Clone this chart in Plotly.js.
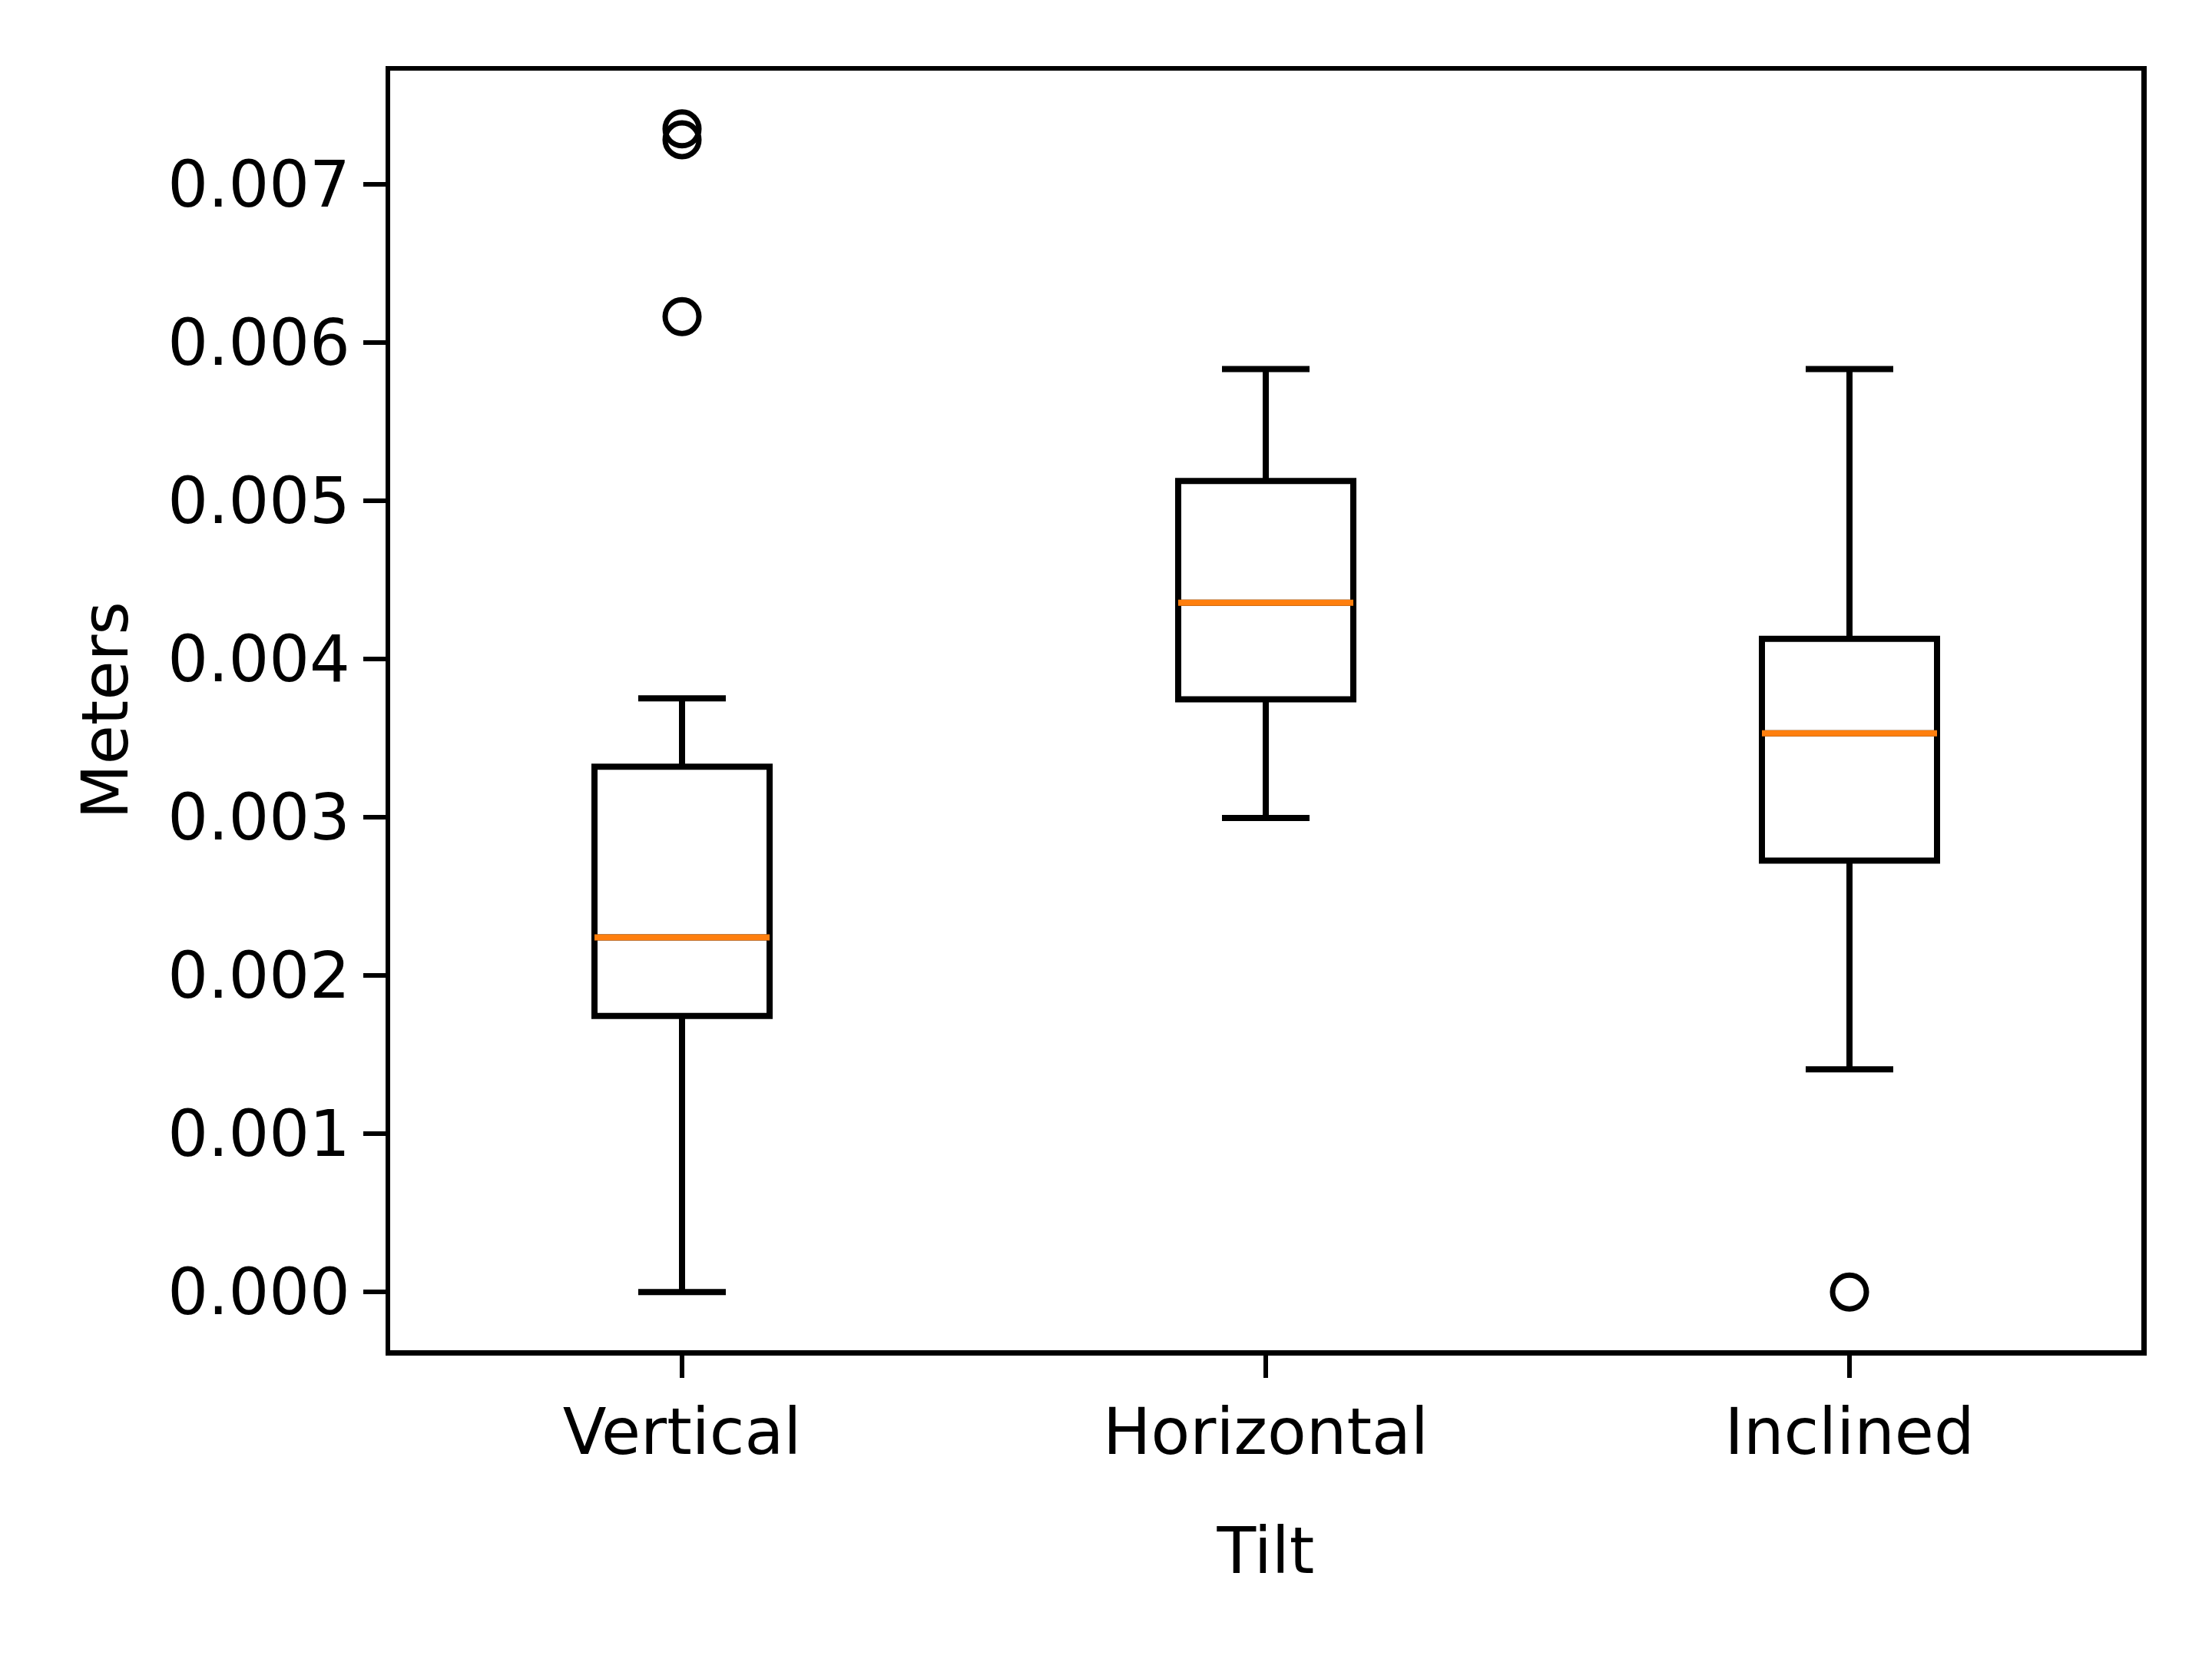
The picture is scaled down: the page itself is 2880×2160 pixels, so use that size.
<!DOCTYPE html>
<html>
<head>
<meta charset="utf-8">
<script src="https://cdn.plot.ly/plotly-3.0.1.min.js"></script>
<style>
  html, body { margin: 0; padding: 0; background: #fff; }
  #chart { width: 2880px; height: 2160px; }
</style>
</head>
<body>
<div id="chart"></div>
<script>
// box statistics (meters)
var categories = ['Vertical', 'Horizontal', 'Inclined'];
var lowerWhisker = [0.0, 0.002996, 0.001407];
var q1 = [0.001745, 0.003745, 0.002726];
var median = [0.002241, 0.004356, 0.003531];
var q3 = [0.003320, 0.005125, 0.004127];
var upperWhisker = [0.003752, 0.005833, 0.005833];

// fliers
var verticalOutliers = [0.006164, 0.007281, 0.007350];
var inclinedOutliers = [0.0];

var yTicks = [0, 0.001, 0.002, 0.003, 0.004, 0.005, 0.006, 0.007];

var boxes = {
  type: 'box',
  x: categories,
  q1: q1,
  median: median,
  q3: q3,
  lowerfence: lowerWhisker,
  upperfence: upperWhisker,
  width: 0.3,
  whiskerwidth: 0.5,
  boxpoints: false,
  fillcolor: 'rgba(255,255,255,0)',
  line: {color: 'black', width: 8},
  showlegend: false,
  hoverinfo: 'skip'
};

// orange median line drawn as a flat box on top
var medians = {
  type: 'box',
  x: categories,
  q1: median,
  median: median,
  q3: median,
  lowerfence: median,
  upperfence: median,
  width: 0.3,
  whiskerwidth: 0,
  boxpoints: false,
  fillcolor: 'rgba(0,0,0,0)',
  line: {color: '#ff7f0e', width: 8},
  showlegend: false,
  hoverinfo: 'skip'
};

var fliers = {
  type: 'scatter',
  mode: 'markers',
  x: verticalOutliers.map(function () { return categories[0]; })
      .concat(inclinedOutliers.map(function () { return categories[2]; })),
  y: verticalOutliers.concat(inclinedOutliers),
  marker: {symbol: 'circle-open', size: 44, color: 'black', line: {width: 7, color: 'black'}},
  showlegend: false,
  hoverinfo: 'skip'
};

var axisFont = {family: 'DejaVu Sans', size: 83, color: 'black'};

var layout = {
  width: 2880,
  height: 2160,
  margin: {l: 508, r: 92, t: 92, b: 402},
  paper_bgcolor: 'white',
  plot_bgcolor: 'white',
  boxmode: 'overlay',
  font: axisFont,
  xaxis: {
    type: 'category',
    range: [-0.5, 2.5],
    showgrid: false,
    zeroline: false,
    showline: true,
    mirror: true,
    linecolor: 'black',
    linewidth: 6.5,
    ticks: 'outside',
    ticklen: 29,
    tickwidth: 6.5,
    tickcolor: 'black',
    tickfont: axisFont,
    title: {text: 'Tilt', font: axisFont, standoff: 80}
  },
  yaxis: {
    range: [-0.000368, 0.007718],
    tickvals: yTicks,
    tickformat: '.3f',
    showgrid: false,
    zeroline: false,
    showline: true,
    mirror: true,
    linecolor: 'black',
    linewidth: 6.5,
    ticks: 'outside',
    ticklen: 29,
    tickwidth: 6.5,
    tickcolor: 'black',
    tickfont: axisFont,
    title: {text: 'Meters', font: axisFont, standoff: 26}
  }
};

Plotly.newPlot('chart', [boxes, medians, fliers], layout, {staticPlot: true});
</script>
</body>
</html>
